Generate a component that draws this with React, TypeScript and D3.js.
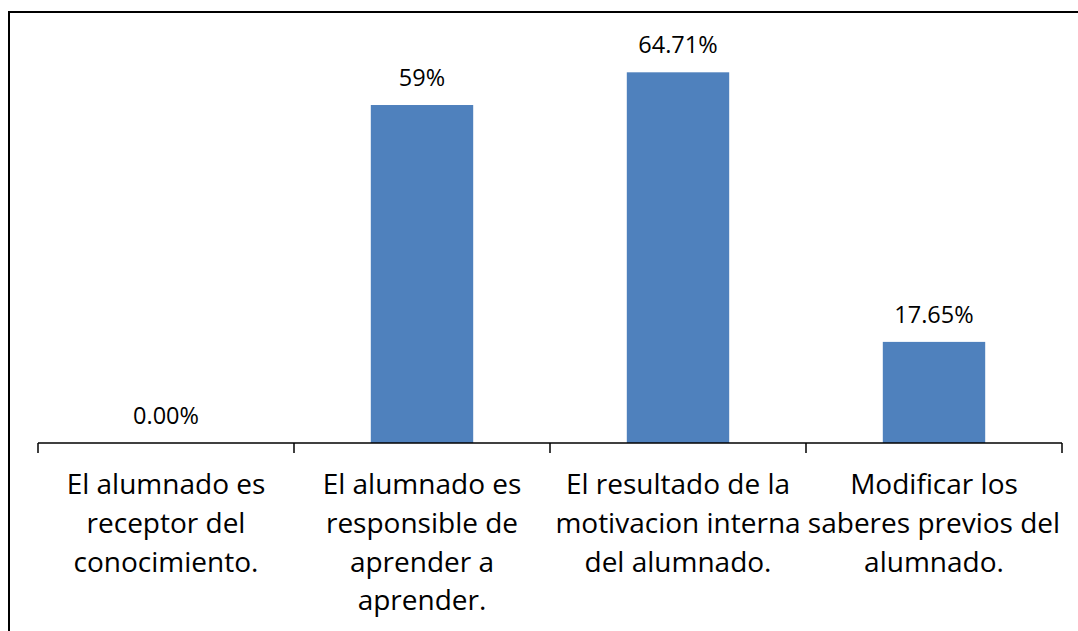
import React from "react";
import * as d3 from "d3";

const categories: string[][] = [
  ["El alumnado es", "receptor del", "conocimiento."],
  ["El alumnado es", "responsible de", "aprender a", "aprender."],
  ["El resultado de la", "motivacion interna", "del alumnado."],
  ["Modificar los", "saberes previos del", "alumnado."],
];
const values: number[] = [0, 59, 64.71, 17.65];
const valueLabels: string[] = ["0.00%", "59%", "64.71%", "17.65%"];

const W = 1078;
const H = 631;
const FONT = "'Open Sans', Lato, sans-serif";

export default function App() {
  const x = d3
    .scaleBand<number>()
    .domain(categories.map((_, i) => i))
    .range([38, 1062])
    .padding(0);
  const y = d3.scaleLinear().domain([0, 70]).range([443, 42]);
  const bw = x.bandwidth() * 0.4;
  const ticks = d3.range(categories.length + 1).map((i) => 38 + i * x.bandwidth());

  return (
    <svg
      width={W}
      height={H}
      style={{ position: "absolute", left: 0, top: 0, background: "#fff" }}
    >
      <rect x={0} y={0} width={W} height={H} fill="#fff" />
      {/* frame */}
      <line x1={9} y1={12} x2={W + 10} y2={12} stroke="#000" strokeWidth={2} />
      <line x1={9} y1={11} x2={9} y2={H + 10} stroke="#000" strokeWidth={2} />
      {/* bars */}
      {values.map((v, i) => {
        const cx = (x(i) as number) + x.bandwidth() / 2;
        return (
          <g key={i}>
            {v > 0 && (
              <rect
                x={cx - bw / 2}
                y={y(v)}
                width={bw}
                height={y(0) - y(v)}
                fill="#4F81BD"
              />
            )}
            <text
              x={cx}
              y={y(v) - 19}
              textAnchor="middle"
              fontFamily={FONT}
              fontSize={23.5}
              fill="#000"
            >
              {valueLabels[i]}
            </text>
          </g>
        );
      })}
      {/* axis */}
      <line x1={38} y1={443} x2={1062} y2={443} stroke="#000" strokeWidth={1.5} />
      {ticks.map((t, i) => (
        <line key={i} x1={t} y1={443} x2={t} y2={453} stroke="#000" strokeWidth={1.5} />
      ))}
      {categories.map((lines, i) => {
        const cx = (x(i) as number) + x.bandwidth() / 2;
        return (
          <text
            key={i}
            textAnchor="middle"
            fontFamily={FONT}
            fontSize={28}
            fill="#000"
          >
            {lines.map((l, j) => (
              <tspan key={j} x={cx} y={494 + j * 38.8}>
                {l}
              </tspan>
            ))}
          </text>
        );
      })}
    </svg>
  );
}
